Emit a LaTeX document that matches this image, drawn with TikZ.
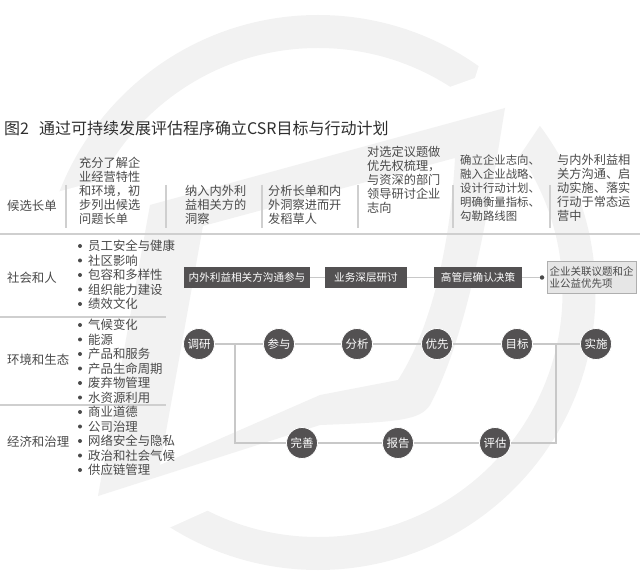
\documentclass[tikz,border=0pt]{standalone}
\usepackage{fontspec}
\setmainfont{Noto Sans CJK SC}
\definecolor{wmark}{HTML}{F2F2F2}
\definecolor{txtgray}{HTML}{4A4A4A}
\definecolor{titlegray}{HTML}{2E2E2E}
\definecolor{darkfill}{HTML}{535152}
\definecolor{rulegray}{HTML}{CFCFCF}
\definecolor{linkgray}{HTML}{C8C8C8}
\definecolor{notefill}{HTML}{E6E6E6}
\definecolor{noteline}{HTML}{AFAFAF}
\tikzset{
  coltext/.style={anchor=west,align=left,inner sep=0,text=txtgray,font=\fontsize{12.2}{14}\selectfont},
  rowlabel/.style={anchor=west,inner sep=0,text=txtgray,font=\fontsize{12.4}{14}\selectfont},
  listitem/.style={anchor=west,inner sep=0,text=txtgray,font=\fontsize{12.4}{14}\selectfont},
  stagebox/.style={fill=darkfill,text=white,minimum height=21,inner sep=0,font=\fontsize{10.6}{12}\selectfont},
  stepdot/.style={circle,fill=darkfill,draw=white,line width=0.8,minimum size=31,inner sep=0,text=white,font=\fontsize{11.5}{12}\selectfont},
  link/.style={draw=linkgray,line width=1.6},
  sepline/.style={draw=rulegray,line width=1.2},
}
\begin{document}
\begin{tikzpicture}[x=1pt,y=-1pt]
\useasboundingbox (0,0) rectangle (640,585);
\fill[wmark,even odd rule] (318,292.5) circle (277.5) (318,292.5) circle (244.5);
\fill[white] (433,93) -- (475,78) -- (490,30) -- (610,70) -- (545,118) -- (518,158) -- (470,150) -- cycle;
\fill[white] (20,202) -- (150,167) -- (200,400) -- (230,500.5) -- (120,550) -- (20,550) -- cycle;
\draw[white,line width=16,line join=round] (150,205) -- (505,108) .. controls (490,200) and (470,330) .. (430,405) .. controls (420,420) and (400,422) .. (320,425) -- (98,496) -- cycle;
\fill[wmark,even odd rule] (150,205) -- (505,108) .. controls (490,200) and (470,330) .. (430,405) .. controls (420,420) and (400,422) .. (320,425) -- (98,496) -- cycle (203,226) -- (455,158) .. controls (450,250) and (430,330) .. (398,380) -- (320,395) -- (160,465) -- cycle;
\node[anchor=west,inner sep=0,text=titlegray,font=\fontsize{16}{18}\selectfont] (title) at (4,128) {图2\hspace{10pt}通过可持续发展评估程序确立CSR目标与行动计划};
\node[rowlabel] (hdlist) at (7,206) {候选长单};
\node[coltext] (hdscan) at (79,190.5) {充分了解企\\业经营特性\\和环境，初\\步列出候选\\问题长单};
\node[coltext] (hdview) at (185,205) {纳入内外利\\益相关方的\\洞察};
\node[coltext] (hddraft) at (268,205) {分析长单和内\\外洞察进而开\\发稻草人};
\node[coltext] (hdrank) at (367,180) {对选定议题做\\优先权梳理，\\与资深的部门\\领导研讨企业\\志向};
\node[coltext,font=\fontsize{11.4}{14}\selectfont] (hdgoal) at (460,188) {确立企业志向、\\融入企业战略、\\设计行动计划、\\明确衡量指标、\\勾勒路线图};
\node[coltext] (hdact) at (557,188) {与内外利益相\\关方沟通、启\\动实施、落实\\行动于常态运\\营中};
\draw[sepline] (66,185) -- (66,228);
\draw[sepline] (166,185) -- (166,228);
\draw[sepline] (262,185) -- (262,228);
\draw[sepline] (358,185) -- (358,228);
\draw[sepline] (453,185) -- (453,228);
\draw[sepline] (550,185) -- (550,228);
\draw[sepline] (0,234) -- (640,234);
\draw[sepline] (0,317) -- (166,317);
\draw[sepline] (0,405) -- (166,405);
\node[rowlabel] (social) at (7,278) {社会和人};
\node[rowlabel] (nature) at (7,360) {环境和生态};
\node[rowlabel] (economy) at (7,442) {经济和治理};
\fill[txtgray] (80,246) circle (2);
\node[listitem] (s1) at (88,246) {员工安全与健康};
\fill[txtgray] (80,260.5) circle (2);
\node[listitem] (s2) at (88,260.5) {社区影响};
\fill[txtgray] (80,275) circle (2);
\node[listitem] (s3) at (88,275) {包容和多样性};
\fill[txtgray] (80,289.5) circle (2);
\node[listitem] (s4) at (88,289.5) {组织能力建设};
\fill[txtgray] (80,304) circle (2);
\node[listitem] (s5) at (88,304) {绩效文化};
\fill[txtgray] (80,325) circle (2);
\node[listitem] (n1) at (88,325) {气候变化};
\fill[txtgray] (80,339.5) circle (2);
\node[listitem] (n2) at (88,339.5) {能源};
\fill[txtgray] (80,354) circle (2);
\node[listitem] (n3) at (88,354) {产品和服务};
\fill[txtgray] (80,368.5) circle (2);
\node[listitem] (n4) at (88,368.5) {产品生命周期};
\fill[txtgray] (80,383) circle (2);
\node[listitem] (n5) at (88,383) {废弃物管理};
\fill[txtgray] (80,397.5) circle (2);
\node[listitem] (n6) at (88,397.5) {水资源利用};
\fill[txtgray] (80,412) circle (2);
\node[listitem] (e1) at (88,412) {商业道德};
\fill[txtgray] (80,426.5) circle (2);
\node[listitem] (e2) at (88,426.5) {公司治理};
\fill[txtgray] (80,441) circle (2);
\node[listitem] (e3) at (88,441) {网络安全与隐私};
\fill[txtgray] (80,455.5) circle (2);
\node[listitem] (e4) at (88,455.5) {政治和社会气候};
\fill[txtgray] (80,470) circle (2);
\node[listitem] (e5) at (88,470) {供应链管理};
\node[stagebox,minimum width=126] (talk) at (247,277.5) {内外利益相关方沟通参与};
\node[stagebox,minimum width=82] (deep) at (366,277.5) {业务深层研讨};
\node[stagebox,minimum width=88] (board) at (478,277.5) {高管层确认决策};
\node[circle,fill=txtgray,inner sep=0,minimum size=4.5] (dot) at (542,277.5) {};
\node[fill=notefill,draw=noteline,line width=0.8,minimum width=89,minimum height=32,inner sep=2,align=left,text=txtgray,font=\fontsize{10.5}{12}\selectfont] (prio) at (591.5,277) {企业关联议题和企\\业公益优先项};
\draw[link] (talk) -- (deep);
\draw[link] (deep) -- (board);
\draw[link] (board) -- (dot);
\node[stepdot] (survey) at (199,344) {调研};
\node[stepdot] (engage) at (279,344) {参与};
\node[stepdot] (analyse) at (357,344) {分析};
\node[stepdot] (rank) at (437,344) {优先};
\node[stepdot] (target) at (517,344) {目标};
\node[stepdot] (launch) at (596,344) {实施};
\node[stepdot] (refine) at (302,443) {完善};
\node[stepdot] (report) at (398,443) {报告};
\node[stepdot] (assess) at (495,443) {评估};
\coordinate (split) at (235,344);
\coordinate (merge) at (556,344);
\draw[link] (survey) -- (engage) -- (analyse) -- (rank) -- (target) -- (launch);
\draw[link] (split) |- (refine);
\draw[link] (refine) -- (report) -- (assess);
\draw[link] (assess) -| (merge);
\end{tikzpicture}
\end{document}
